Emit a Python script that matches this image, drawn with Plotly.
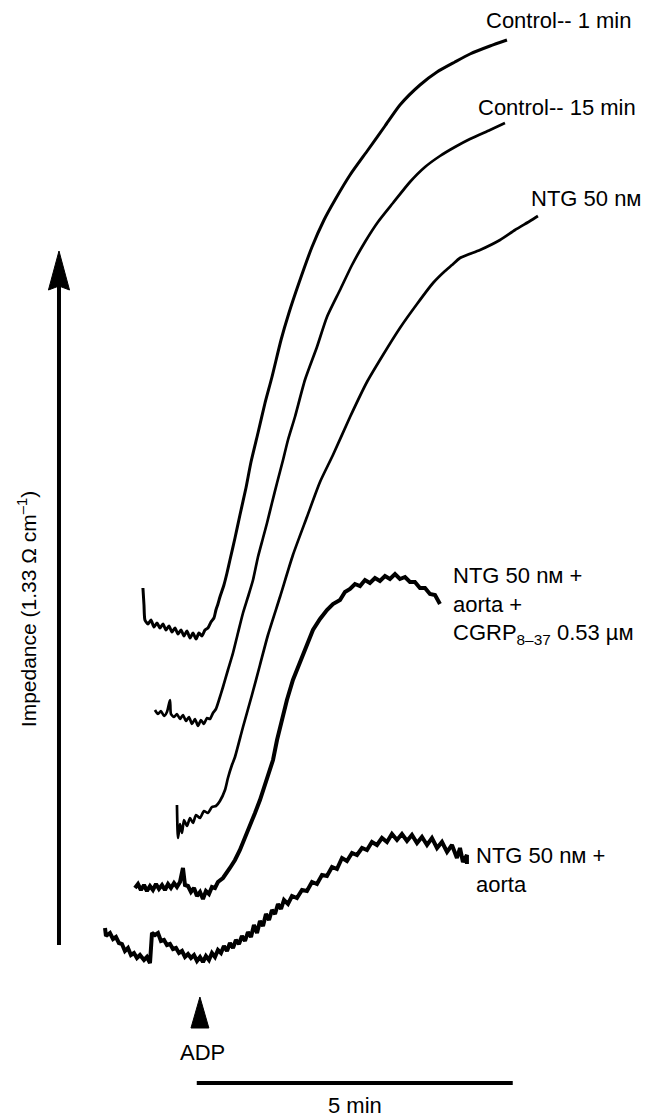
import plotly.graph_objects as go

# Time in seconds relative to ADP addition; impedance in arbitrary chart units
ctrl1_t = [-55.1, -54.1, -53.2, -50.3, -47.5, -44.6, -41.8, -38.9, -36.1, -33.2, -30.4, -27.5, -24.7, -21.8,
           -19.0, -16.1, -13.3, -10.4, -7.6, -4.7, -1.9, 0.9, 3.8, 6.6, 9.5, 12.3, 14.2, 16.1, 18.0,
           21.8, 24.7, 27.5, 32.3, 37.0, 42.7, 47.5, 54.1, 60.8, 67.4, 76.0, 83.5, 93.0,
           105.4, 116.8, 127.2, 141.5, 158.5, 174.7, 188.9, 207.9, 224.1, 241.1, 255.4, 274.4, 290.5]
ctrl1_z = [529, 512, 497, 493, 497, 490, 494, 489, 493, 487, 491, 485, 489, 483,
           487, 481, 486, 479, 484, 478, 484, 481, 487, 489, 495, 499, 507, 513, 520,
           532, 544, 557, 579, 602, 629, 655, 684, 714, 740, 777, 804, 834,
           870, 897, 917, 942, 967, 991, 1012, 1032, 1045, 1055, 1063, 1071, 1077]

ctrl15_t = [-43.7, -40.8, -38.0, -35.1, -32.3, -29.4, -28.5, -25.6, -22.8, -19.9, -17.1, -14.2, -11.4, -8.5,
            -5.7, -2.8, 0.0, 2.8, 5.7, 8.5, 11.4, 14.2, 17.1, 20.9,
            25.6, 30.4, 35.1, 39.9, 44.6, 49.4, 54.1, 58.9, 62.7, 67.4, 72.2, 77.9, 82.6, 89.2, 98.7,
            110.1, 119.6, 132.0, 143.4, 155.7, 168.0, 182.3, 198.4, 212.7, 226.9, 241.1, 255.4, 274.4, 288.6]
ctrl15_z = [407, 403, 406, 401, 405, 417, 403, 400, 403, 398, 402, 396, 400, 393,
            398, 391, 397, 393, 399, 398, 404, 408, 417, 430,
            447, 464, 484, 504, 520, 537, 560, 579, 594, 614, 634, 657, 677, 700, 737,
            770, 800, 827, 852, 875, 895, 914, 935, 950, 961, 970, 978, 987, 994]

ntg_t = [-22.8, -21.8, -19.9, -18.0, -16.1, -13.3, -10.4, -7.6, -4.7, -0.9, 2.8, 6.6, 10.4, 14.2, 18.0,
         22.8, 25.6, 29.4, 32.3, 39.9, 48.4, 56.0, 63.6, 75.0, 87.3, 100.6, 113.0, 125.3, 141.5,
         157.6, 172.8, 188.9, 205.1, 220.3, 231.7, 238.3, 245.9, 264.9, 283.9, 298.1, 312.4, 319.9]
ntg_z = [312, 279, 293, 284, 297, 291, 299, 294, 302, 299, 306, 304, 310, 311, 316,
         327, 339, 352, 360, 390, 422, 452, 482, 520, 562, 600, 635, 662, 700,
         735, 762, 789, 813, 834, 846, 852, 859, 867, 877, 887, 896, 901]

cgrp_t = [-62.7, -59.8, -57.0, -54.1, -51.3, -48.4, -45.6, -42.7, -39.9, -37.0, -34.2, -31.3, -28.5, -25.6,
          -22.8, -19.9, -17.1, -15.2, -12.3, -9.5, -6.6, -3.8, -0.9, 1.9, 4.7, 7.6, 10.4, 13.3, 16.1,
          20.9, 27.5, 32.3, 37.0, 41.8, 46.5, 51.3, 56.0, 60.8, 65.5, 68.4, 72.2, 76.9, 81.6, 87.3,
          94.0, 100.6, 106.3, 113.0, 119.6, 125.3, 132.0, 136.7, 141.5, 146.2, 151.0, 155.7, 160.4,
          165.2, 169.9, 174.7, 179.4, 184.2, 188.9, 193.7, 198.4, 203.1, 207.9, 212.7, 217.4, 222.2,
          225.0, 226.9]
cgrp_z = [229, 233, 227, 232, 226, 231, 227, 233, 228, 232, 227, 233, 229, 234,
          230, 235, 249, 232, 231, 225, 229, 221, 225, 218, 226, 223, 230, 229, 235,
          239, 249, 257, 267, 279, 290, 304, 317, 332, 347, 357, 377, 397, 417, 437,
          455, 472, 487, 498, 507, 513, 517, 525, 528, 533, 531, 537, 534,
          539, 536, 541, 538, 543, 538, 540, 535, 535, 529, 529, 523, 522,
          517, 513]

aorta_t = [-91.1, -90.2, -86.4, -83.5, -80.7, -77.9, -75.0, -72.2, -69.3, -66.5, -63.6, -60.8, -57.9,
           -54.1, -51.3, -48.4, -46.5, -43.7, -40.8, -38.0, -35.1, -32.3, -29.4, -26.6, -23.7, -20.9,
           -18.0, -15.2, -12.3, -9.5, -6.6, -3.8, -0.9, 1.9, 4.7, 7.6, 10.4, 13.3, 16.1, 19.0, 21.8,
           24.7, 27.5, 30.4, 33.2, 36.1, 38.9, 41.8, 44.6, 47.5, 50.3, 53.2, 56.0, 58.9, 61.7, 64.6,
           67.4, 70.3, 73.1, 76.0, 78.8, 82.6, 86.4, 91.1, 95.9, 100.6, 105.4, 110.1, 114.9, 119.6,
           124.4, 129.1, 133.9, 138.6, 143.4, 148.1, 152.9, 157.6, 162.3, 167.1, 171.8, 176.6, 181.3,
           186.1, 190.8, 195.6, 200.3, 205.1, 209.8, 214.6, 219.3, 224.1, 228.8, 233.6, 238.3, 243.0,
           245.9, 248.7, 252.5, 252.5]
aorta_z = [189, 181, 184, 178, 180, 174, 173, 166, 169, 162, 164, 159, 162,
           157, 160, 154, 184, 182, 184, 176, 177, 172, 173, 168, 169, 164,
           166, 160, 163, 159, 162, 156, 160, 155, 161, 157, 164, 160, 167, 164, 171,
           166, 174, 169, 177, 173, 181, 176, 185, 180, 192, 184, 196, 191, 203, 197,
           207, 203, 213, 208, 217, 213, 221, 219, 227, 226, 235, 233, 242, 241,
           250, 248, 259, 256, 264, 262, 269, 267, 275, 272, 279, 275, 283,
           277, 283, 276, 282, 274, 280, 272, 279, 269, 275, 265, 272, 259,
           269, 255, 262, 253]

# small-capital M (U+1D0D) as in the original "nᴍ" / "µᴍ"
trace_labels = [
    "Control-- 1 min",
    "Control-- 15 min",
    "NTG 50 n\u1d0d",
    "NTG 50 n\u1d0d +<br>aorta +<br>CGRP<sub>8\u201337</sub> 0.53 \u00b5\u1d0d",
    "NTG 50 n\u1d0d +<br>aorta",
]
label_pos = [(268.7, 1097), (261.1, 1010), (311.4, 919), (237.4, 512), (259.2, 247)]
y_label = "Impedance (1.33 \u03a9 cm<sup>\u20131</sup>)"
adp_label = "ADP"
scale_label = "5 min"
scale_bar_start = -4
scale_bar_len = 300  # seconds (5 min)

X_RANGE = [-190.8, 426.3]
Y_RANGE = [0, 1117]
FONT = "Liberation Sans, DejaVu Sans, Arial, sans-serif"
FS = 22

series = [
    (ctrl1_t, ctrl1_z, 3.0, "spline"),
    (ctrl15_t, ctrl15_z, 2.7, "spline"),
    (ntg_t, ntg_z, 2.7, "spline"),
    (cgrp_t, cgrp_z, 4.0, "linear"),
    (aorta_t, aorta_z, 4.0, "linear"),
]

fig = go.Figure()
for t, z, w, shp in series:
    line = dict(color="black", width=w, shape=shp)
    if shp == "spline":
        line["smoothing"] = 0.6
    fig.add_trace(go.Scatter(x=t, y=z, mode="lines", line=line,
                             hoverinfo="skip", showlegend=False))

annotations = []
for txt, (ax_, ay_) in zip(trace_labels, label_pos):
    annotations.append(dict(x=ax_, y=ay_, xref="x", yref="y", text=txt, showarrow=False,
                            xanchor="left", yanchor="middle", align="left",
                            font=dict(family=FONT, size=FS, color="black")))
annotations.append(dict(x=1, y=65, xref="x", yref="y", text=adp_label, showarrow=False,
                        xanchor="center", yanchor="middle",
                        font=dict(family=FONT, size=FS, color="black")))
annotations.append(dict(x=scale_bar_start + scale_bar_len / 2, y=12, xref="x", yref="y",
                        text=scale_label, showarrow=False, xanchor="center", yanchor="middle",
                        font=dict(family=FONT, size=FS, color="black")))
annotations.append(dict(x=-165.0, y=508, xref="x", yref="y", text=y_label, showarrow=False,
                        textangle=-90, xanchor="center", yanchor="middle",
                        font=dict(family=FONT, size=21, color="black")))

arrow_x = -134.8
shapes = [
    # scale bar
    dict(type="line", xref="x", yref="y", x0=scale_bar_start, x1=scale_bar_start + scale_bar_len,
         y0=34, y1=34, line=dict(color="black", width=4)),
    # impedance arrow shaft
    dict(type="line", xref="x", yref="y", x0=arrow_x, x1=arrow_x, y0=172, y1=835,
         line=dict(color="black", width=4)),
    # impedance arrow head
    dict(type="path", xref="x", yref="y",
         path=f"M {arrow_x},866 L {arrow_x - 10},827 L {arrow_x},831 L {arrow_x + 10},827 Z",
         fillcolor="black", line=dict(color="black", width=1)),
    # ADP arrow head
    dict(type="path", xref="x", yref="y",
         path="M -1,120 L -9.5,89 L 7.5,89 Z",
         fillcolor="black", line=dict(color="black", width=1)),
]

fig.update_layout(
    width=650, height=1117, autosize=False,
    margin=dict(l=0, r=0, t=0, b=0, pad=0),
    paper_bgcolor="white", plot_bgcolor="white",
    xaxis=dict(range=X_RANGE, visible=False, fixedrange=True),
    yaxis=dict(range=Y_RANGE, visible=False, fixedrange=True),
    annotations=annotations, shapes=shapes,
    showlegend=False,
)

fig.write_html("out.html", config={"displayModeBar": False})
